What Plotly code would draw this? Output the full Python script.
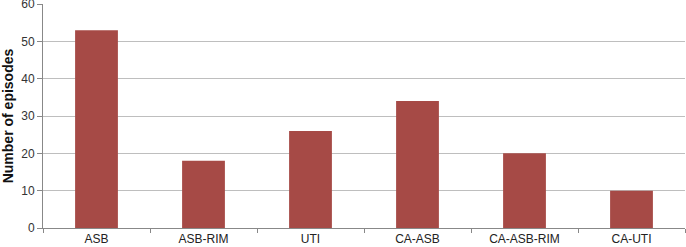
import plotly.graph_objects as go

categories = ["ASB", "ASB-RIM", "UTI", "CA-ASB", "CA-ASB-RIM", "CA-UTI"]
episodes = [53, 18, 26, 34, 20, 10]
y_ticks = [0, 10, 20, 30, 40, 50, 60]

fig = go.Figure(go.Bar(x=categories, y=episodes, marker=dict(color="#A64A46", line=dict(width=0))))

fig.update_layout(
    width=686, height=247,
    margin=dict(l=43, r=1, t=4, b=19, autoexpand=False),
    paper_bgcolor="white", plot_bgcolor="white",
    bargap=0.6, showlegend=False,
    font=dict(family="Liberation Sans, Arial, sans-serif", size=12, color="#222222"),
)
fig.update_xaxes(
    automargin=False,
    showline=True, linecolor="#888888", linewidth=1,
    ticks="outside", tickson="boundaries", ticklen=4, tickcolor="#888888",
    tickfont=dict(size=12, color="#222222"), showgrid=False,
)
fig.update_yaxes(
    automargin=False, ticklabeloverflow="allow",
    range=[0, 60.02], tickvals=y_ticks, showline=True, linecolor="#888888", linewidth=1,
    ticks="outside", ticklen=5, tickcolor="#888888",
    showgrid=True, gridcolor="#BEBEBE", gridwidth=1, zeroline=False,
    tickfont=dict(size=12, color="#333333"),
    title=dict(text="<b>Number of episodes</b>", font=dict(size=14, color="#111111"), standoff=6),
)
fig.write_html("out.html", config={"displayModeBar": False},
               post_script="document.body.style.margin='0';document.body.style.overflow='hidden';")
